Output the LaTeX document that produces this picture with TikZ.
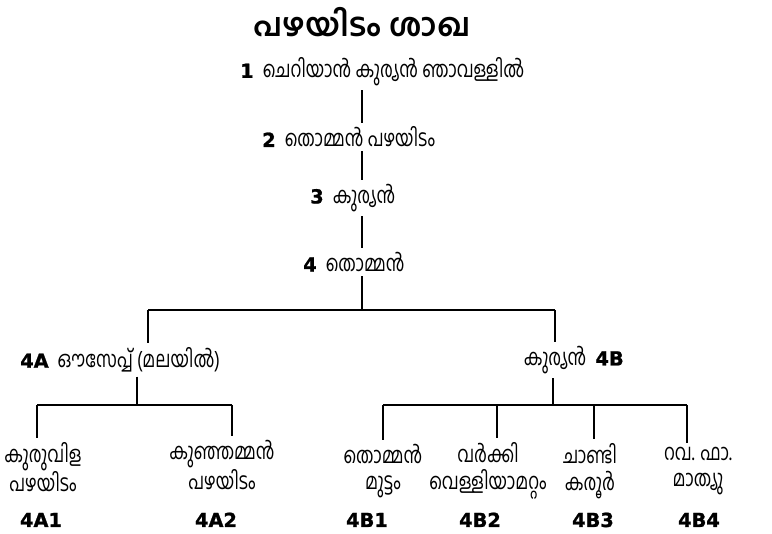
\documentclass[tikz,border=0pt]{standalone}
\usepackage{fontspec}
\setmainfont{Hind Kochi}[Script=Malayalam, FakeStretch=0.76]
\newfontfamily\titlefont{Hind Kochi}[Script=Malayalam, FakeStretch=0.98]
\newfontfamily\tagfont{DejaVu Sans}[BoldFeatures={FakeBold=1.2}]
\usetikzlibrary{positioning}
\newcommand\gen[1]{{\tagfont\bfseries\fontsize{14.5}{16}\selectfont #1}\hspace{0.4em}}
\newcommand\gentail[1]{\hspace{0.4em}{\tagfont\bfseries\fontsize{14.5}{16}\selectfont #1}}
\tikzset{
  titlebox/.style={inner sep=2pt, font=\titlefont\bfseries\fontsize{24}{28}\selectfont},
  person/.style={inner sep=3pt, align=center, font=\fontsize{17}{20}\selectfont},
  tag/.style={inner sep=2pt, anchor=base, font=\tagfont\bfseries\fontsize{14.5}{16}\selectfont},
  branch/.style={line width=2pt, draw=black},
}
\begin{document}
\begin{tikzpicture}[x=0.75pt, y=-0.75pt]
\useasboundingbox (0,0) rectangle (772,534);
\coordinate (stem) at (362,0);

\node[titlebox] (title) at (362,22) {പഴയിടം ശാഖ};

% main line
\node[person, anchor=west] (g1) at (236,72) {\gen{1}ചെറിയാൻ കുര്യൻ ഞാവള്ളിൽ};
\node[person, anchor=west] (g2) at (258,137) {\gen{2}തൊമ്മൻ പഴയിടം};
\node[person, anchor=west] (g3) at (306,198) {\gen{3}കുര്യൻ};
\node[person, anchor=west] (g4) at (299,262) {\gen{4}തൊമ്മൻ};

\draw[branch] (g1.south -| stem) -- (g2.north -| stem);
\draw[branch] (g2.south -| stem) -- (g3.north -| stem);
\draw[branch] (g3.south -| stem) -- (g4.north -| stem);

% two sons
\node[person, anchor=west] (g4A) at (16,360) {\gen{4A}ഔസേപ്പ് (മലയിൽ)};
\node[person, anchor=east] (g4B) at (628,360) {കുര്യൻ\gentail{4B}};

\coordinate (split4) at (362,310);
\coordinate (drop4A) at (148,310);
\coordinate (drop4B) at (555,310);
\draw[branch] (g4.south -| stem) -- (split4) (drop4A) -- (drop4B)
  (drop4A) -- (drop4A |- g4A.north) (drop4B) -- (drop4B |- g4B.north);

% grandsons
\node[person] (c4A1) at (43,467) {കുരുവിള\\പഴയിടം};
\node[person] (c4A2) at (222,465) {കുഞ്ഞമ്മൻ\\പഴയിടം};
\node[person] (c4B1) at (383,471) {തൊമ്മൻ\\മുട്ടം};
\node[person] (c4B2) at (488,471) {വർക്കി\\വെള്ളിയാമറ്റം};
\node[person] (c4B3) at (590,471) {ചാണ്ടി\\കരൂർ};
\node[person] (c4B4) at (698,471) {റവ. ഫാ.\\മാത്യു};

\node[tag] (n4A1) at (41,527) {4A1};
\node[tag] (n4A2) at (216,527) {4A2};
\node[tag] (n4B1) at (367,527) {4B1};
\node[tag] (n4B2) at (480,527) {4B2};
\node[tag] (n4B3) at (593,527) {4B3};
\node[tag] (n4B4) at (699,527) {4B4};

\coordinate (split4A) at (137,405);
\coordinate (k4A1) at (37,405);
\coordinate (k4A2) at (232,405);
\draw[branch] (g4A.south -| split4A) -- (split4A) (k4A1) -- (k4A2)
  (k4A1) -- (k4A1 |- c4A1.north) (k4A2) -- (k4A2 |- c4A2.north);

\coordinate (split4B) at (553,405);
\coordinate (k4B1) at (383,405);
\coordinate (k4B2) at (497,405);
\coordinate (k4B3) at (594,405);
\coordinate (k4B4) at (687,405);
\draw[branch] (g4B.south -| split4B) -- (split4B) (k4B1) -- (k4B4)
  (k4B1) -- (k4B1 |- c4B1.north) (k4B2) -- (k4B2 |- c4B2.north)
  (k4B3) -- (k4B3 |- c4B3.north) (k4B4) -- (k4B4 |- c4B4.north);
\end{tikzpicture}
\end{document}
